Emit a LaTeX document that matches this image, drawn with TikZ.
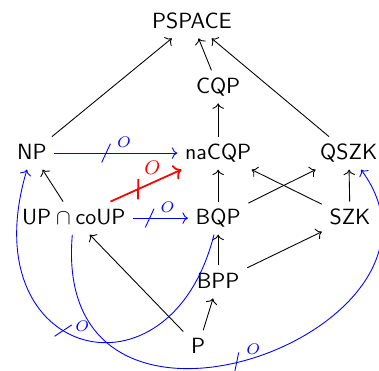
\documentclass[tikz,border=0pt]{standalone}
\usetikzlibrary{arrows.meta}
\tikzset{
    % complexity classes
    cls/.style={
        font=\sffamily,
        text height=1.6ex,
        text depth=.25ex
    },
    incl/.style={
        ->,
        black
    },
    noincl/.style={
        ->,
        blue
    },
    strict/.style={
        ->,
        red,
        thick
    },
    olabel/.style={
        font=\scriptsize,
        inner sep=0pt,
        anchor=south west
    },
    % crossed arrow with oracle mark
    notO/.pic={
        \draw[-] (-0.07,-0.15) -- (0.07,0.15);
        \node[olabel] at (0.17,0.08) {$O$};
    }
}
\begin{document}
\begin{tikzpicture}
    \useasboundingbox (0,0) rectangle (6.064,-5.936);

    % Classes
    \node[cls] (pspace) at (3.07,-0.35) {PSPACE};
    \node[cls] (cqp) at (3.49,-1.39) {CQP};
    \node[cls] (np) at (0.51,-2.45) {NP};
    \node[cls] (nacqp) at (3.49,-2.45) {naCQP};
    \node[cls] (qszk) at (5.58,-2.45) {QSZK};
    \node[cls] (upco) at (1.18,-3.49) {UP${}\cap{}$coUP};
    \node[cls] (bqp) at (3.49,-3.49) {BQP};
    \node[cls] (szk) at (5.60,-3.49) {SZK};
    \node[cls] (bpp) at (3.49,-4.51) {BPP};
    \node[cls] (p) at (3.17,-5.55) {P};

    % Inclusions
    \draw[incl] (np) -- (pspace);
    \draw[incl] (cqp) -- (pspace);
    \draw[incl] (qszk) -- (pspace);
    \draw[incl] (nacqp) -- (cqp);
    \draw[incl] (bqp) -- (nacqp);
    \draw[incl] (szk) -- (qszk);
    \draw[incl] (bqp) -- (qszk);
    \draw[incl] (szk) -- (nacqp);
    \draw[incl] (upco) -- (np);
    \draw[incl] (bpp) -- (bqp);
    \draw[incl] (bpp) -- (szk);
    \draw[incl] (p) -- (bpp);
    \draw[incl] (p) -- (upco);

    % Oracle separations
    \draw[noincl] (np) -- pic[pos=.42, sloped, blue] {notO} (nacqp);
    \draw[noincl] (upco) -- pic[pos=.3, sloped, blue] {notO} (bqp);
    \draw[strict] (upco) -- pic[pos=.39, sloped, red, thick,
        olabel/.append style={font=\small, xshift=-1pt, yshift=2pt}] {notO} (nacqp);
    \draw[noincl] (bqp) .. controls (2.72,-6.56) and (-0.48,-5.76)
        .. pic[pos=.57, sloped, blue] {notO} (np);
    \draw[noincl] (upco) .. controls (0.80,-7.84) and (7.68,-5.28)
        .. pic[pos=.47, sloped, blue] {notO} (qszk);
\end{tikzpicture}
\end{document}
